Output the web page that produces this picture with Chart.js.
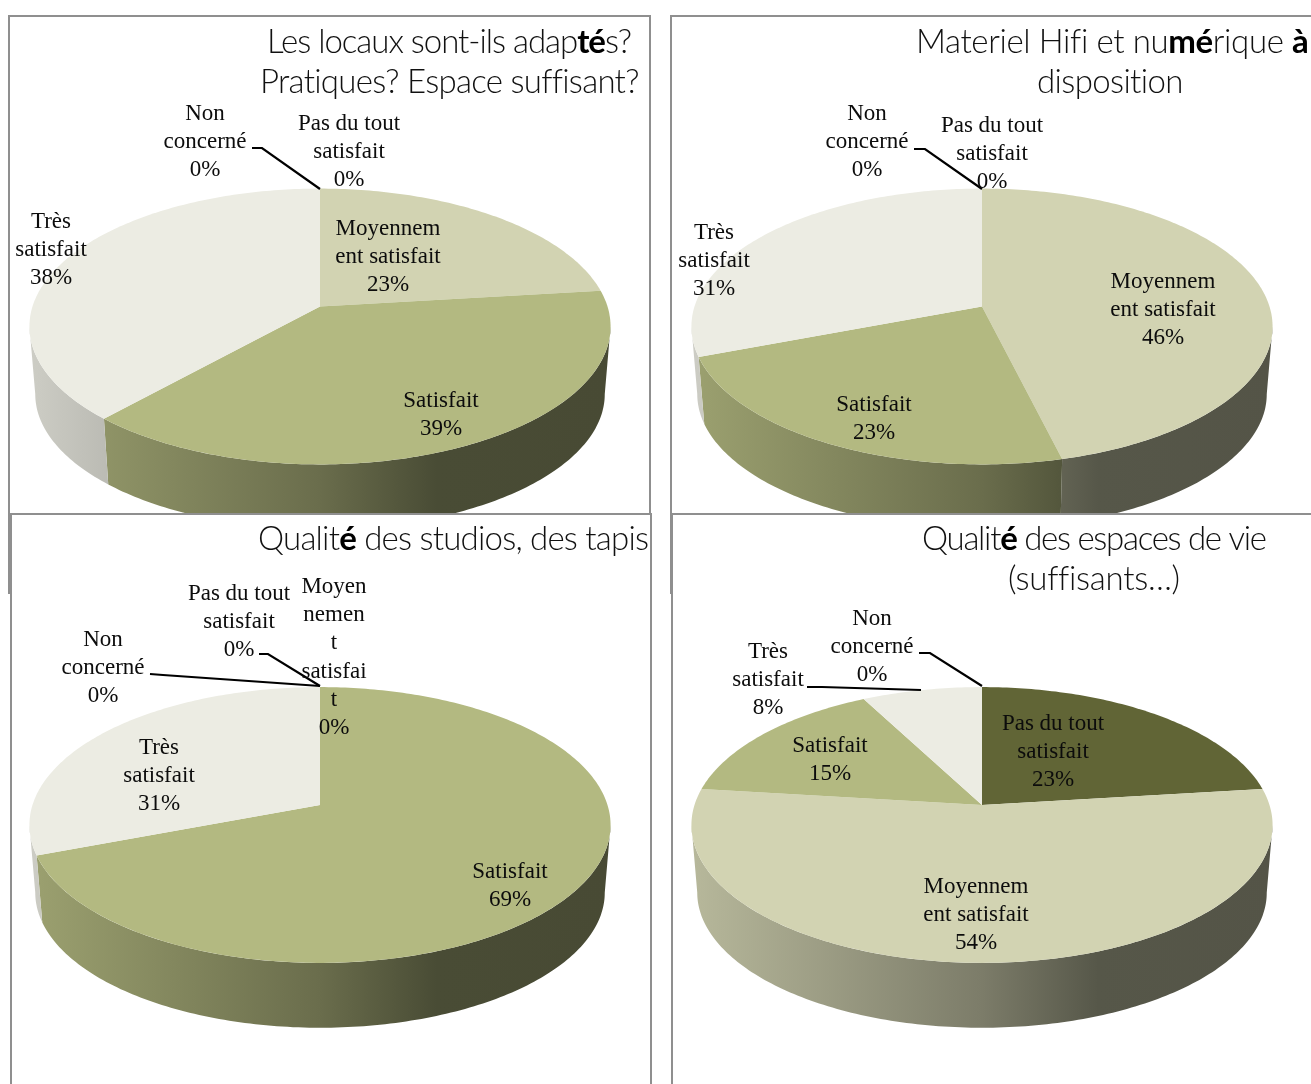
<!DOCTYPE html>
<html lang="fr">
<head>
<meta charset="utf-8">
<title>Enquête de satisfaction</title>
<script src="https://cdn.jsdelivr.net/npm/chart.js@4"></script>
<style>
html,body{margin:0;padding:0;background:#fff;width:1311px;height:1084px;overflow:hidden}
.panel{position:absolute;box-sizing:border-box;border:2px solid #8f8f8f;background:#fff;overflow:hidden}
canvas{position:absolute;left:0;top:0}
</style>
</head>
<body>
<div class="panel" id="p0" style="left:8px;top:15px;width:643px;height:579px"><canvas id="c0"></canvas></div>
<div class="panel" id="p1" style="left:670px;top:15px;width:700px;height:579px"><canvas id="c1"></canvas></div>
<div class="panel" id="p2" style="left:10px;top:513px;width:642px;height:700px"><canvas id="c2"></canvas></div>
<div class="panel" id="p3" style="left:671px;top:513px;width:700px;height:700px"><canvas id="c3"></canvas></div>
<script>
// ---- data ----
const categories = ['Pas du tout satisfait', 'Moyennement satisfait', 'Satisfait', 'Très satisfait', 'Non concerné'];
const valuesLocaux  = [0, 23.1, 38.6, 38.3, 0];
const valuesHifi    = [0, 46.15, 23.08, 30.77, 0];
const valuesStudios = [0, 0, 69.23, 30.77, 0];
const valuesEspaces = [23.08, 53.85, 15.38, 7.69, 0];
const sliceColors = ['#616536', '#d2d3b2', '#b3b981', '#ecece3', '#8a8d5c'];

// wrapped category text as it appears in the data labels
const wrapDefault = [['Pas du tout', 'satisfait'], ['Moyennem', 'ent satisfait'], ['Satisfait'], ['Très', 'satisfait'], ['Non', 'concerné']];
const wrapNarrow  = [['Pas du tout', 'satisfait'], ['Moyen', 'nemen', 't', 'satisfai', 't'], ['Satisfait'], ['Très', 'satisfait'], ['Non', 'concerné']];

// title lines: [runs], each run [text, bold]
const titleLocaux  = [[['Les locaux sont-ils adap', 0], ['té', 1], ['s?', 0]], [['Pratiques? Espace suffisant?', 0]]];
const titleHifi    = [[['Materiel Hifi et nu', 0], ['mé', 1], ['rique ', 0], ['à', 1]], [['disposition', 0]]];
const titleStudios = [[['Qualit', 0], ['é', 1], [' des studios, des tapis', 0]]];
const titleEspaces = [[['Qualit', 0], ['é', 1], [' des espaces de vie', 0]], [['(suffisants…)', 0]]];

// ---- layout (page pixels) ----
const panels = [
  { values: valuesLocaux, title: titleLocaux, wrap: wrapDefault, origin: [10, 17], size: [639, 575], apex: [320, 306.5],
    titlePos: [[267, 632, 42], [260, 638, 82]],
    labelPos: [[349, 123], [388, 228], [441, 400], [51, 221], [205, 113]],
    leaders: [[[252, 148], [262, 148], [320, 189]]] },
  { values: valuesHifi, title: titleHifi, wrap: wrapDefault, origin: [672, 17], size: [639, 575], apex: [982, 306.5],
    titlePos: [[916, 1308, 42], [1037, 1184, 82]],
    labelPos: [[992, 125], [1163, 281], [874, 404], [714, 232], [867, 113]],
    leaders: [[[914, 149], [925, 149], [982, 189]]] },
  { values: valuesStudios, title: titleStudios, wrap: wrapNarrow, origin: [12, 515], size: [638, 569], apex: [320, 805],
    titlePos: [[258, 649, 539]],
    labelPos: [[239, 593], [334, 586], [510, 871], [159, 747], [103, 639]],
    leaders: [[[259, 654], [268, 654], [320, 686]], [[150, 674], [163, 675], [320, 686]]] },
  { values: valuesEspaces, title: titleEspaces, wrap: wrapDefault, origin: [673, 515], size: [638, 569], apex: [982, 805],
    titlePos: [[922, 1267, 539], [1008, 1178, 579]],
    labelPos: [[1053, 723], [976, 886], [830, 745], [768, 651], [872, 618]],
    leaders: [[[919, 653], [930, 653], [982, 686]], [[807, 687], [822, 687], [921, 690]]] }
];
const PERSPECTIVE = 0.145, RX = 287.5, RY = 135, DEPTH = 68, BOTTOM_SCALE = 0.98;
const LINE_H = 28.2;
const SHADE = [[0, 0.87], [0.5, 0.59], [0.7, 0.41], [1, 0.40]];
// the rim is only visible between the two points where the outline turns vertical
const RIM_FROM = Math.acos(-PERSPECTIVE), RIM_TO = 2 * Math.PI - RIM_FROM;

function hexRgb(h) { return [1, 3, 5].map(i => parseInt(h.substr(i, 2), 16)); }

function ringPoint(apex, theta, s, d) {
  const u = Math.sin(theta), v = -Math.cos(theta), w = 1 - PERSPECTIVE * v;
  return [apex[0] + RX * u / w * s, apex[1] + RY * v / w * s + d];
}

const pie3d = {
  id: 'pie3d',
  beforeDatasetsDraw(chart, args, opts) {
    const { ctx } = chart, cfg = opts.panel;
    const arcs = chart.getDatasetMeta(0).data;
    const colors = chart.data.datasets[0].backgroundColor;
    ctx.save();
    ctx.translate(-cfg.origin[0], -cfg.origin[1]);
    const ax = cfg.apex[0];
    // extruded rim
    arcs.forEach((arc, i) => {
      const a0 = Math.max(arc.startAngle + Math.PI / 2, RIM_FROM);
      const a1 = Math.min(arc.endAngle + Math.PI / 2, RIM_TO);
      if (a1 - a0 <= 0) return;
      const grad = ctx.createLinearGradient(ax - 291, 0, ax + 291, 0);
      const rgb = hexRgb(colors[i]);
      SHADE.forEach(([t, f]) => grad.addColorStop(t, `rgb(${rgb.map(c => Math.round(c * f)).join(',')})`));
      ctx.beginPath();
      const n = Math.max(2, Math.ceil((a1 - a0) * 60));
      for (let k = 0; k <= n; k++) {
        const p = ringPoint(cfg.apex, a0 + (a1 - a0) * k / n, 1, 0);
        k ? ctx.lineTo(p[0], p[1]) : ctx.moveTo(p[0], p[1]);
      }
      for (let k = n; k >= 0; k--) {
        const p = ringPoint(cfg.apex, a0 + (a1 - a0) * k / n, BOTTOM_SCALE, DEPTH);
        ctx.lineTo(p[0], p[1]);
      }
      ctx.closePath();
      ctx.fillStyle = grad;
      ctx.fill();
    });
    // top faces
    arcs.forEach((arc, i) => {
      if (arc.endAngle - arc.startAngle <= 0) return;
      const a0 = arc.startAngle + Math.PI / 2, a1 = arc.endAngle + Math.PI / 2;
      ctx.beginPath();
      ctx.moveTo(cfg.apex[0], cfg.apex[1]);
      const n = Math.max(2, Math.ceil((a1 - a0) * 60));
      for (let k = 0; k <= n; k++) {
        const p = ringPoint(cfg.apex, a0 + (a1 - a0) * k / n, 1, 0);
        ctx.lineTo(p[0], p[1]);
      }
      ctx.closePath();
      ctx.fillStyle = colors[i];
      ctx.fill();
    });
    ctx.restore();
    return false;
  },
  afterDraw(chart, args, opts) {
    const { ctx } = chart, cfg = opts.panel;
    ctx.save();
    ctx.translate(-cfg.origin[0], -cfg.origin[1]);
    // leader lines
    ctx.strokeStyle = '#000';
    ctx.lineWidth = 2.2;
    cfg.leaders.forEach(pts => {
      ctx.beginPath();
      pts.forEach((p, k) => k ? ctx.lineTo(p[0], p[1]) : ctx.moveTo(p[0], p[1]));
      ctx.stroke();
    });
    // data labels
    ctx.fillStyle = '#0c0c0c';
    ctx.textAlign = 'center';
    ctx.textBaseline = 'middle';
    ctx.font = '23px "Liberation Serif", serif';
    chart.data.labels.forEach((name, i) => {
      const lines = cfg.wrap[i].concat(Math.round(cfg.values[i]) + '%');
      lines.forEach((t, k) => ctx.fillText(t, cfg.labelPos[i][0], cfg.labelPos[i][1] + 1 + k * LINE_H));
    });
    // title, fitted to the measured line extents
    ctx.textAlign = 'left';
    cfg.title.forEach((runs, li) => {
      const [x0, x1, y] = cfg.titlePos[li];
      const fontOf = b => (b ? '700 33px Lato, sans-serif' : '300 33px Lato, sans-serif');
      ctx.letterSpacing = '0px';
      let natural = 0, chars = 0;
      runs.forEach(([t, b]) => { ctx.font = fontOf(b); natural += ctx.measureText(t).width; chars += t.length; });
      const ls = (x1 - x0 - natural) / Math.max(1, chars - 1);
      ctx.letterSpacing = ls.toFixed(3) + 'px';
      let x = x0;
      runs.forEach(([t, b]) => {
        ctx.font = fontOf(b);
        ctx.fillStyle = b ? '#000' : '#111';
        ctx.fillText(t, x, y);
        x += ctx.measureText(t).width;
      });
      ctx.letterSpacing = '0px';
    });
    ctx.restore();
  }
};

panels.forEach((cfg, i) => {
  const cv = document.getElementById('c' + i);
  cv.width = cfg.size[0];
  cv.height = cfg.size[1];
  cv.style.width = cfg.size[0] + 'px';
  cv.style.height = cfg.size[1] + 'px';
  new Chart(cv, {
    type: 'pie',
    data: { labels: categories, datasets: [{ data: cfg.values, backgroundColor: sliceColors, borderWidth: 0 }] },
    options: {
      responsive: false,
      animation: false,
      events: [],
      plugins: { legend: { display: false }, tooltip: { enabled: false }, title: { display: false }, pie3d: { panel: cfg } }
    },
    plugins: [pie3d]
  });
});
</script>
</body>
</html>
